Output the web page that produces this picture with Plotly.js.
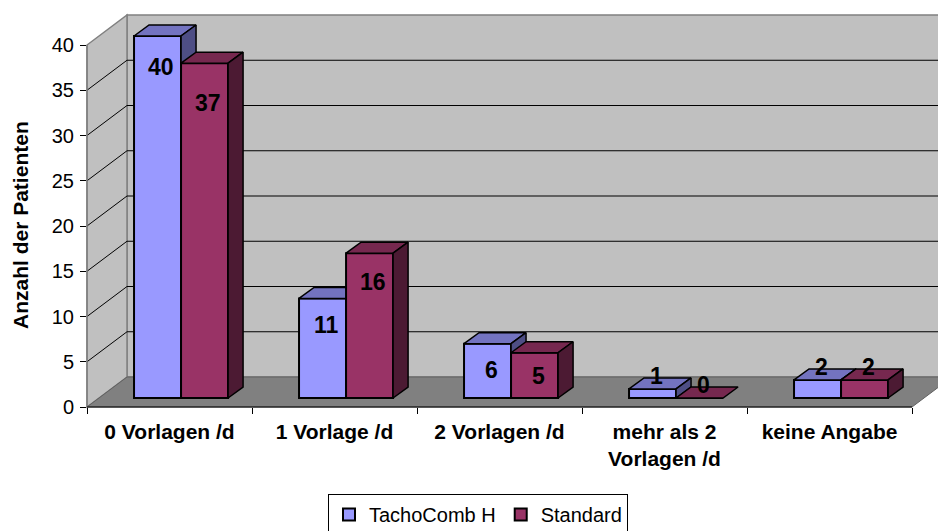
<!DOCTYPE html>
<html>
<head>
<meta charset="utf-8">
<script src="https://cdn.plot.ly/plotly-3.0.1.min.js"></script>
<style>html,body{margin:0;padding:0;background:#fff;}#chart{width:938px;height:531px;}</style>
</head>
<body>
<div id="chart"></div>
<script>
// ---- data ----
const categories = ['0 Vorlagen /d', '1 Vorlage /d', '2 Vorlagen /d', 'mehr als 2<br>Vorlagen /d', 'keine Angabe'];
const seriesNames = ['TachoComb H', 'Standard'];
const tachoComb = [40, 11, 6, 1, 2];
const standard = [37, 16, 5, 0, 2];
const yTickVals = [0, 5, 10, 15, 20, 25, 30, 35, 40];
const yTitle = 'Anzahl der Patienten';

// ---- style / geometry ----
const FONT = 'Arial, "Liberation Sans", sans-serif';
const W = 938, H = 531;
const M = {l: 87, r: 26, t: 0, b: 124, autoexpand: false};
const PW = W - M.l - M.r, PH = H - M.t - M.b;   // 825 x 407
const YMAX = 40;
const frontH = 362;                               // px height of the 0..40 front axis
const pxPerUnit = frontH / YMAX;
const yRangeTop = PH / pxPerUnit;                 // axis range so that 40 sits at the wall top
const fy = v => v * pxPerUnit / PH;               // value -> paper y on the front plane
const wallDx = 40 / PW, wallDy = 30 / PH;         // depth of the 3D box (paper units)
const barW = 0.285;                               // bar width (category units)
const offsets = [-0.215, 0.070];                  // bar offsets per series
const depthX = 15 / PW * 5;                       // bar depth in x units
const depthY = 11 / pxPerUnit;                    // bar depth in y units
const lift = 9 / pxPerUnit;                       // bars stand back on the floor
const colors = {
  front: ['#9999FF', '#993366'],
  top:   ['#7373C0', '#76284F'],
  side:  ['#4E4E85', '#4C1A33']
};
const labelFit = [[0.983, -2.76], [0.941, -2.24]];

const xs = categories.map((_, i) => i);
const allValues = [tachoComb, standard];
const traces = [{type: 'scatter', x: [], y: [], yaxis: 'y', showlegend: false, hoverinfo: 'skip'}];
const annotations = [];

allValues.forEach((vals, s) => {
  const yax = s === 0 ? 'y2' : 'y3';
  traces.push({
    type: 'bar', name: seriesNames[s], x: xs, y: vals, yaxis: yax,
    width: barW, offset: offsets[s],
    marker: {color: colors.front[s], line: {color: '#000', width: 2}},
    hoverinfo: 'skip'
  });
  vals.forEach((v, i) => {
    const x0 = i + offsets[s], x1 = x0 + barW;
    traces.push({
      type: 'scatter', mode: 'lines', yaxis: yax, showlegend: false, hoverinfo: 'skip',
      x: [x0, x0 + depthX, x1 + depthX, x1, x0],
      y: [v, v + depthY, v + depthY, v, v],
      fill: 'toself', fillcolor: colors.top[s], line: {color: '#000', width: 1.5}
    });
    if (v > 0) {
      traces.push({
        type: 'scatter', mode: 'lines', yaxis: yax, showlegend: false, hoverinfo: 'skip',
        x: [x1, x1 + depthX, x1 + depthX, x1, x1],
        y: [0, depthY, v + depthY, v, 0],
        fill: 'toself', fillcolor: colors.side[s], line: {color: '#000', width: 1.5}
      });
    }
    const ly = v >= 3 ? labelFit[s][0] * v + labelFit[s][1] : v + 1.4;
    annotations.push({
      x: x0 + barW / 2 + depthX / 4, y: ly, xref: 'x', yref: yax,
      text: String(v), showarrow: false, xanchor: 'center', yanchor: 'middle',
      font: {family: FONT, size: 23, color: '#000', weight: 'bold'}
    });
  });
});

// y axis title
annotations.push({
  x: (20 - M.l) / PW, y: (PH - 225) / PH, xref: 'paper', yref: 'paper',
  text: yTitle, textangle: -90, showarrow: false, xanchor: 'center', yanchor: 'middle',
  font: {family: FONT, size: 21, color: '#000', weight: 'bold'}
});

// walls, floor, gridlines
const shapes = [];
const P = (pts) => 'M' + pts.map(p => p[0] + ',' + p[1]).join(' L') + ' Z';
const wallTop = fy(YMAX);
shapes.push({type: 'path', xref: 'paper', yref: 'paper', layer: 'below',
  path: P([[wallDx, wallDy], [wallDx, wallTop + wallDy], [1 + wallDx, wallTop + wallDy], [1 + wallDx, wallDy]]),
  fillcolor: '#C0C0C0', line: {color: '#808080', width: 1.5}});
shapes.push({type: 'path', xref: 'paper', yref: 'paper', layer: 'below',
  path: P([[0, 0], [0, wallTop], [wallDx, wallTop + wallDy], [wallDx, wallDy]]),
  fillcolor: '#C0C0C0', line: {color: '#808080', width: 1.5}});
shapes.push({type: 'path', xref: 'paper', yref: 'paper', layer: 'below',
  path: P([[0, 0], [wallDx, wallDy], [1 + wallDx, wallDy], [1, 0]]),
  fillcolor: '#808080', line: {color: '#606060', width: 1}});
yTickVals.forEach(v => {
  if (v === 0 || v === YMAX) return;
  const f = fy(v);
  shapes.push({type: 'line', xref: 'paper', yref: 'paper', layer: 'below',
    x0: wallDx, x1: 1 + wallDx, y0: f + wallDy, y1: f + wallDy, line: {color: '#000', width: 1}});
  shapes.push({type: 'line', xref: 'paper', yref: 'paper', layer: 'below',
    x0: 0, x1: wallDx, y0: f, y1: f + wallDy, line: {color: '#000', width: 1}});
});
// front axis lines
shapes.push({type: 'line', xref: 'paper', yref: 'paper', layer: 'below', x0: 0, x1: 0, y0: 0, y1: wallTop, line: {color: '#808080', width: 1.5}});
shapes.push({type: 'line', xref: 'paper', yref: 'paper', layer: 'below', x0: 0, x1: 1, y0: 0, y1: 0, line: {color: '#000', width: 1}});

const layout = {
  width: W, height: H, margin: M,
  paper_bgcolor: '#fff', plot_bgcolor: 'rgba(0,0,0,0)',
  barmode: 'overlay', showlegend: true,
  font: {family: FONT, color: '#000', size: 20},
  xaxis: {
    type: 'linear', range: [-0.5, categories.length - 0.5], fixedrange: true, automargin: false,
    tickvals: xs, ticktext: categories, ticks: '', showgrid: false, zeroline: false, showline: false,
    tickfont: {family: FONT, size: 21, weight: 'bold', color: '#000'},
    ticklabelstandoff: 10,
    minor: {tickvals: xs.map(i => i - 0.5).concat([categories.length - 0.5]), ticks: 'outside', ticklen: 6, tickcolor: '#000', showgrid: false}
  },
  yaxis: {
    range: [0, yRangeTop], tickvals: yTickVals, ticks: 'outside', ticklen: 6, tickcolor: '#000', automargin: false,
    showgrid: false, zeroline: false, showline: false, fixedrange: true,
    tickfont: {family: FONT, size: 20, color: '#000'}, ticklabelstandoff: 2
  },
  yaxis2: {overlaying: 'y', range: [-lift, yRangeTop - lift], visible: false, fixedrange: true},
  yaxis3: {overlaying: 'y', range: [-lift, yRangeTop - lift], visible: false, fixedrange: true},
  legend: {
    orientation: 'h', x: (478 - M.l) / PW, xanchor: 'center', y: (PH - 494) / PH, yanchor: 'top',
    bordercolor: '#000', borderwidth: 1, bgcolor: '#fff',
    font: {family: FONT, size: 20, color: '#000'}, traceorder: 'normal'
  },
  shapes: shapes,
  annotations: annotations
};

Plotly.newPlot('chart', traces, layout, {staticPlot: true, displayModeBar: false});
</script>
</body>
</html>
